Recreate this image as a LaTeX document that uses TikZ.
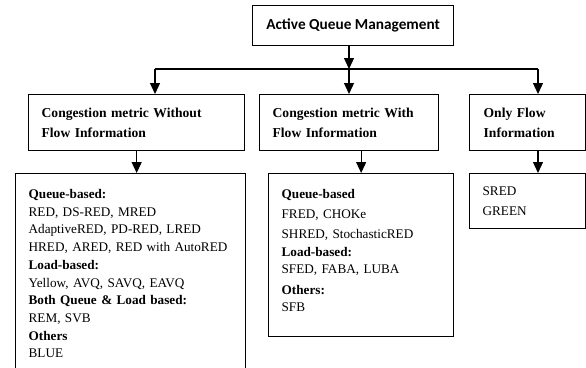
\documentclass[tikz,border=0pt]{standalone}
\usepackage{fontspec}
\setmainfont{Liberation Serif}
\newfontfamily\titlefont{Carlito}
\usetikzlibrary{arrows.meta}

\tikzset{
  box/.style={draw, line width=1.3pt, anchor=north west, align=left,
    font=\fontsize{13.2}{17.7}\selectfont},
  head/.style={font=\fontsize{13.6}{20}\selectfont\bfseries},
  arr/.style={-{Triangle[length=11pt,width=10pt]}, line width=1.2pt},
}

\begin{document}
\begin{tikzpicture}[x=1pt, y=-1pt]
    \useasboundingbox (0,0) rectangle (586,367);

    \node[box, font=\fontsize{15.3}{18}\titlefont\bfseries, minimum width=201, minimum height=40] (aqm) at (252,5) {Active Queue Management};

    \coordinate (hl) at (155,69); \coordinate (hm) at (349,69); \coordinate (hr) at (538,69);

    \node[box, head, inner xsep=13, text width=190, minimum height=56] (cwo) at (28,94) {Congestion metric Without\\Flow Information};
    \node[box, head, inner xsep=13, text width=153, minimum height=56] (cw) at (259,94) {Congestion metric With\\Flow Information};
    \node[box, head, inner xsep=14, text width=88, minimum height=56] (of) at (469,94) {Only Flow\\Information};

    \node[box, inner xsep=13, text width=204, minimum height=200] (cwol) at (15,173) {\textbf{Queue-based:}\\RED, DS-RED, MRED\\AdaptiveRED, PD-RED, LRED\\HRED, ARED, RED with AutoRED\\\textbf{Load-based:}\\Yellow, AVQ, SAVQ, EAVQ\\\textbf{Both Queue \& Load based:}\\REM, SVB\\\textbf{Others}\\BLUE};
    \node[box, inner xsep=13, text width=159, minimum height=163] (cwl) at (268,173) {\textbf{Queue-based}\\[3pt]FRED, CHOKe\\[2pt]SHRED, StochasticRED\\\textbf{Load-based:}\\[-1pt]SFED, FABA, LUBA\\[4pt]\textbf{Others:}\\[-1pt]SFB\\[-8pt]\mbox{}};
    \node[box, inner xsep=13, text width=90, minimum height=55] (ofl) at (469,173) {SRED\\[3pt]GREEN};

    \draw[arr] (aqm.south -| hm) -- (hm);
    \draw[line width=1.2pt] (hl) -- (hr);
    \draw[arr] (hl) -- (hl |- cwo.north);
    \draw[arr] (hm) -- (hm |- cw.north);
    \draw[arr] (hr) -- (hr |- of.north);

    \draw[arr] (cwo.south) -- (cwo.south |- cwol.north);
    \draw[arr] (cwl.north |- cw.south) -- (cwl.north);
    \draw[arr] (hr |- of.south) -- (hr |- ofl.north);
\end{tikzpicture}
\end{document}
